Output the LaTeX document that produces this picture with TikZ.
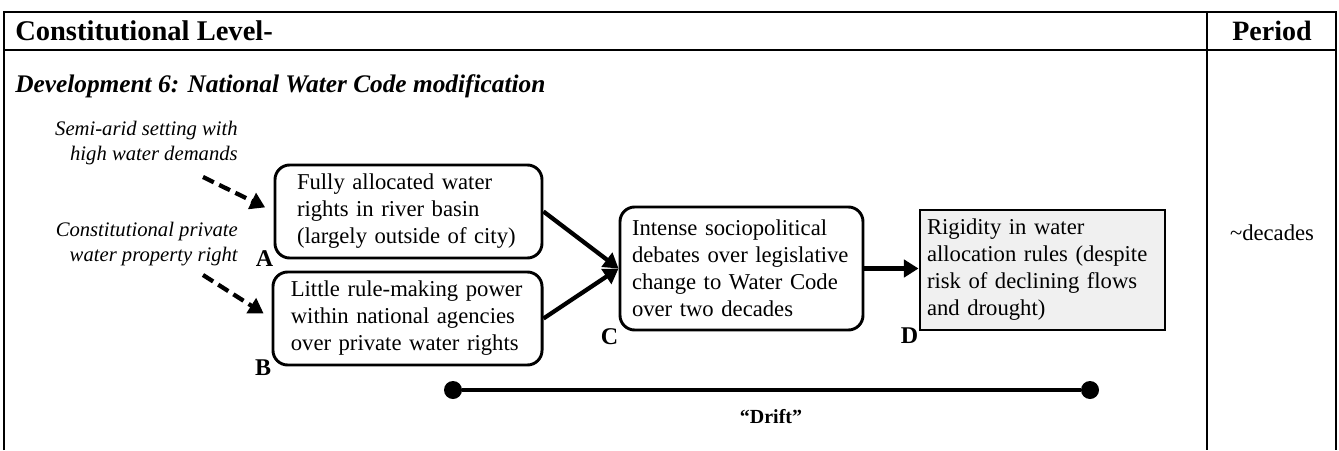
\documentclass[tikz,border=0pt]{standalone}
\usepackage{fontspec}
\setmainfont{Liberation Serif}
\usetikzlibrary{arrows.meta}

\begin{document}
\begin{tikzpicture}[x=0.75pt, y=-0.75pt,
    box/.style={draw, line width=2.2pt, rounded corners=11pt, align=left,
      inner ysep=0pt, font=\fontsize{17}{20.25}\selectfont},
    cause/.style={anchor=east, align=right, inner sep=0pt,
      font=\fontsize{15.5}{19}\selectfont\itshape},
    tag/.style={inner sep=0pt, font=\fontsize{18}{18}\selectfont\bfseries},
    push/.style={-{Triangle[length=11pt,width=13pt]}, line width=3.2pt},
    hint/.style={-{Triangle[length=11pt,width=13pt]}, line width=3.2pt,
      dash pattern=on 9pt off 4.5pt},
    dot/.style={circle, fill, inner sep=0pt, minimum size=13.5pt}]
  \useasboundingbox (0,0) rectangle (1339,450);

  % table frame
  \draw[line width=2.2pt] (4,450) -- (4,12) -- (1336,12) -- (1336,450);
  \draw[line width=2.2pt] (4,50) -- (1336,50);
  \draw[line width=2.2pt] (1207,12) -- (1207,450);
  \node[anchor=west, inner sep=0pt, font=\fontsize{21.4}{24}\selectfont\bfseries]
    (level) at (15,31) {Constitutional Level-};
  \node[font=\fontsize{21}{24}\selectfont\bfseries] (period) at (1272,31) {Period};
  \node[anchor=west, inner sep=0pt, font=\fontsize{19}{22}\selectfont\bfseries\itshape]
    (devel) at (15,86) {Development 6: National Water Code modification};
  \node[font=\fontsize{17}{20}\selectfont] (span) at (1272,233) {\textasciitilde decades};

  % outside conditions
  \node[cause] (semi) at (238,143) {Semi-arid setting with\\high water demands};
  \node[cause] (const) at (238,244) {Constitutional private\\water property right};

  % boxes
  \node[box, text width=167.25pt, inner xsep=16.5pt, minimum height=69.75pt]
    (A) at (408.5,211.5) {Fully allocated water\\rights in river basin\\(largely outside of city)};
  \node[box, text width=175pt, inner xsep=13.4pt, minimum height=69.75pt]
    (B) at (407.5,318.5) {Little rule-making power\\within national agencies\\over private water rights};
  \node[box, text width=164.25pt, inner xsep=9pt, minimum height=92.25pt]
    (C) at (741.5,268.5) {Intense sociopolitical\\debates over legislative\\change to Water Code\\over two decades};
  \node[box, rounded corners=0pt, fill=gray!12, text width=173.25pt, inner xsep=5.25pt,
    minimum height=90pt]
    (D) at (1042.5,270) {Rigidity in water\\allocation rules (despite\\risk of declining flows\\and drought)};

  \node[tag, anchor=east] (la) at ([yshift=1pt]A.south west) {A};
  \node[tag, anchor=east] (lb) at ([yshift=-1pt]B.south west) {B};
  \node[tag, anchor=east] (lc) at ([yshift=-4pt]C.south west) {C};
  \node[tag, anchor=east] (ld) at ([yshift=-3pt]D.south west) {D};

  % arrows
  \coordinate (s1) at (203,177);
  \coordinate (s2) at (203,275);
  \draw[hint, shorten >=7pt] (s1) -- (A.west);
  \draw[hint, shorten >=7pt] (s2) -- (B.west);
  \draw[push] (A.east) -- (C.west);
  \draw[push] (B.east) -- (C.west);
  \draw[push] (C) -- (C -| D.west);

  % drift
  \node[dot] (d1) at (453,390) {};
  \node[dot] (d2) at (1090,390) {};
  \draw[line width=2.4pt] (d1) -- (d2);
  \node[font=\fontsize{15}{18}\selectfont\bfseries] (drift) at (771,417) {“Drift”};
\end{tikzpicture}
\end{document}
